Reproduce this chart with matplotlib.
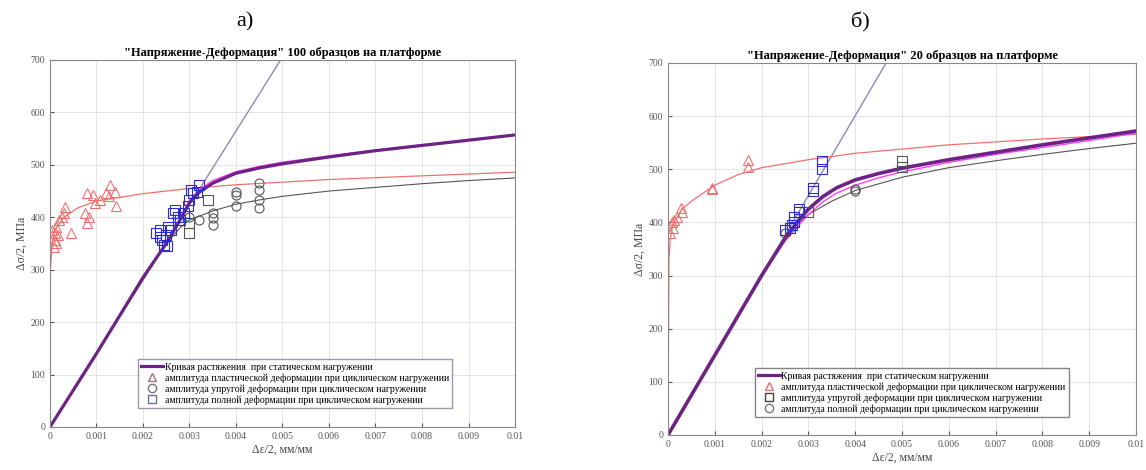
import matplotlib.pyplot as plt
from matplotlib.lines import Line2D

plt.rcParams['font.family'] = ['Liberation Serif', 'DejaVu Serif']

# ---- panel a) 100 samples ----
a_static_x = [0, 0.001, 0.002, 0.0025, 0.0028, 0.003, 0.0032, 0.0035, 0.004, 0.0045, 0.005, 0.006, 0.007, 0.008, 0.009, 0.01]
a_static_y = [0, 140, 285, 350, 395, 428, 447, 465, 484, 494, 502, 515, 527, 537, 547, 557]
a_magenta_y = [0, 140, 285, 350, 398, 432, 452, 470, 487, 497, 505, 517, 528, 538, 548, 557]
a_plast_x = [0, 0.00001, 0.00005, 0.0001, 0.0003, 0.0006, 0.001, 0.002, 0.003, 0.004, 0.005, 0.006, 0.008, 0.01]
a_plast_y = [0, 300, 350, 375, 400, 418, 431, 445, 455, 462, 467, 472, 479, 486]
a_elast_x = [0, 0.0025, 0.0028, 0.003, 0.0035, 0.004, 0.0045, 0.005, 0.006, 0.007, 0.008, 0.009, 0.01]
a_elast_y = [0, 350, 380, 395, 412, 425, 433, 440, 450, 457, 464, 470, 475]
a_line_x = [0, 0.00496]
a_line_y = [0, 700]

a_tri_x = [0.0001, 0.0001, 0.00005, 0.00013, 0.00017, 0.0002, 0.0003, 0.00033, 0.00045, 0.00076, 0.0008, 0.0008,
           0.00092, 0.00097, 0.00107, 0.0013, 0.00139, 0.00143, 0.00127, 0.0012, 0.00084, 0.00025, 0.00013, 0.00008]
a_tri_y = [357, 370, 376, 382, 366, 395, 408, 420, 370, 408, 389, 446,
           443, 427, 433, 462, 449, 421, 440, 446, 401, 401, 350, 344]
a_circ_x = [0.0032, 0.0035, 0.0035, 0.0035, 0.004, 0.004, 0.004, 0.0045, 0.0045, 0.0045, 0.0045, 0.003]
a_circ_y = [395, 408, 398, 386, 449, 443, 421, 465, 452, 433, 417, 401]
a_gsq_x = [0.003, 0.003, 0.0034]
a_gsq_y = [370, 389, 433]
a_sq_x = [0.00229, 0.00237, 0.00241, 0.00245, 0.00249, 0.00253, 0.0026, 0.00265, 0.00268, 0.00276,
          0.0028, 0.00288, 0.00296, 0.003, 0.00304, 0.00308, 0.0032, 0.00316, 0.00237, 0.00252]
a_sq_y = [370, 376, 357, 348, 367, 382, 376, 408, 414, 401,
          395, 408, 421, 433, 452, 446, 462, 449, 363, 345]

# ---- panel б) 20 samples ----
b_static_x = [0, 0.001, 0.002, 0.0025, 0.0028, 0.003, 0.0033, 0.0036, 0.004, 0.0045, 0.005, 0.006, 0.007, 0.008, 0.009, 0.01]
b_static_y = [0, 150, 300, 370, 405, 425, 448, 465, 480, 492, 502, 518, 532, 546, 559, 572]
b_magenta_y = [0, 150, 300, 365, 395, 415, 438, 455, 470, 484, 495, 513, 528, 541, 554, 568]
b_plast_x = [0, 0.00002, 0.00005, 0.0001, 0.0003, 0.0005, 0.001, 0.0015, 0.002, 0.003, 0.004, 0.005, 0.006, 0.008, 0.01]
b_plast_y = [0, 330, 370, 395, 425, 440, 470, 490, 503, 518, 530, 538, 546, 557, 566]
b_elast_x = [0.0028, 0.003, 0.0035, 0.004, 0.005, 0.006, 0.007, 0.008, 0.009, 0.01]
b_elast_y = [400, 415, 440, 460, 485, 503, 516, 528, 539, 549]
b_line_x = [0, 0.00466]
b_line_y = [0, 700]

b_tri_x = [0.00005, 0.0001, 0.00008, 0.00012, 0.0002, 0.0003, 0.00028, 0.00095, 0.00093, 0.0017, 0.0017]
b_tri_y = [380, 390, 400, 405, 410, 420, 428, 462, 465, 505, 518]
b_sq_x = [0.003, 0.005, 0.005]
b_sq_y = [420, 505, 515]
b_circ_x = [0.004, 0.004, 0.0025]
b_circ_y = [460, 463, 380]
b_bsq_x = [0.0025, 0.0026, 0.0027, 0.0027, 0.0028, 0.0028, 0.0031, 0.0031, 0.0033, 0.0033, 0.00265]
b_bsq_y = [385, 390, 400, 410, 420, 425, 460, 465, 500, 515, 395]

lbl_static = "Кривая растяжения  при статическом нагружении"
lbl_plast = "амплитуда пластической деформации при циклическом нагружении"
lbl_elast = "амплитуда упругой деформации при циклическом нагружении"
lbl_total = "амплитуда полной деформации при циклическом нагружении"

purple = '#6c2383'
red = '#f07070'
gray = '#555555'
blue = '#2a2ad0'

fig = plt.figure(figsize=(11.46, 4.7), dpi=100)
ax1 = fig.add_axes([0.0436, 0.0915, 0.4058, 0.7809])
ax2 = fig.add_axes([0.5829, 0.0745, 0.4084, 0.7915])


def style(ax, title):
    ax.set_xlim(0, 0.01)
    ax.set_ylim(0, 700)
    ax.set_xticks([i * 0.001 for i in range(11)])
    ax.set_xticklabels(["0"] + ["%g" % (i * 0.001) for i in range(1, 11)])
    ax.set_yticks(range(0, 701, 100))
    ax.tick_params(direction='in', labelsize=7, colors='#555555', length=3)
    ax.grid(color='#e4e4e4', linewidth=0.7)
    ax.set_axisbelow(True)
    for s in ax.spines.values():
        s.set_color('#888888')
        s.set_linewidth(0.8)
    ax.set_title(title, fontsize=9, fontweight='bold', pad=3)
    ax.set_xlabel("Δε/2, мм/мм", fontsize=8.5, color='#444444', labelpad=2)
    ax.set_ylabel("Δσ/2, МПа", fontsize=8.5, color='#444444', labelpad=2)


# panel a
ax1.plot(a_line_x, a_line_y, color='#8c8cb8', lw=1.0)
ax1.plot(a_plast_x, a_plast_y, color=red, lw=0.9)
ax1.plot(a_elast_x, a_elast_y, color=gray, lw=0.8)
ax1.plot(a_static_x, a_magenta_y, color='#ff40ff', lw=1.0)
ax1.plot(a_static_x, a_static_y, color=purple, lw=2.3)
ax1.plot(a_tri_x, a_tri_y, '^', mfc='none', mec=red, ms=7, mew=0.8)
ax1.plot(a_circ_x, a_circ_y, 'o', mfc='none', mec=gray, ms=6.5, mew=0.8)
ax1.plot(a_gsq_x, a_gsq_y, 's', mfc='none', mec=gray, ms=6.5, mew=0.8)
ax1.plot(a_sq_x, a_sq_y, 's', mfc='none', mec=blue, ms=6.5, mew=0.8)
style(ax1, '"Напряжение-Деформация" 100 образцов на платформе')
h1 = [Line2D([], [], color=purple, lw=2.3),
      Line2D([], [], ls='none', marker='^', mfc='none', mec='#a07090', ms=6),
      Line2D([], [], ls='none', marker='o', mfc='none', mec='#777777', ms=6),
      Line2D([], [], ls='none', marker='s', mfc='none', mec='#7070a0', ms=6)]
ax1.legend(h1, [lbl_static, lbl_plast, lbl_elast, lbl_total], loc='lower right',
           bbox_to_anchor=(0.865, 0.052), fontsize=7, frameon=True, fancybox=False,
           edgecolor='#8a7a9a', borderpad=0.35, labelspacing=0.15, handlelength=2.2,
           handletextpad=0.2, borderaxespad=0)

# panel b
ax2.plot(b_line_x, b_line_y, color='#8c8cb8', lw=1.0)
ax2.plot(b_plast_x, b_plast_y, color=red, lw=0.9)
ax2.plot(b_elast_x, b_elast_y, color=gray, lw=0.8)
ax2.plot(b_static_x, b_magenta_y, color='#ff40ff', lw=1.0)
ax2.plot(b_static_x, b_static_y, color=purple, lw=2.6)
ax2.plot(b_tri_x, b_tri_y, '^', mfc='none', mec=red, ms=7, mew=0.8)
ax2.plot(b_sq_x, b_sq_y, 's', mfc='none', mec=gray, ms=6.5, mew=0.8)
ax2.plot(b_circ_x, b_circ_y, 'o', mfc='none', mec=gray, ms=6.5, mew=0.8)
ax2.plot(b_bsq_x, b_bsq_y, 's', mfc='none', mec=blue, ms=6.5, mew=0.8)
style(ax2, '"Напряжение-Деформация" 20 образцов на платформе')
h2 = [Line2D([], [], color=purple, lw=2.3),
      Line2D([], [], ls='none', marker='^', mfc='none', mec='#e07070', ms=6),
      Line2D([], [], ls='none', marker='s', mfc='none', mec='#444444', ms=6),
      Line2D([], [], ls='none', marker='o', mfc='none', mec='#777777', ms=6)]
ax2.legend(h2, [lbl_static, lbl_plast, lbl_elast, lbl_total], loc='lower right',
           bbox_to_anchor=(0.857, 0.048), fontsize=7, frameon=True, fancybox=False,
           edgecolor='#666666', borderpad=0.35, labelspacing=0.15, handlelength=2.2,
           handletextpad=0.2, borderaxespad=0)

fig.text(245 / 1146, 1 - 22 / 470, "а)", fontsize=16, ha='center', va='center')
fig.text(860 / 1146, 1 - 22 / 470, "б)", fontsize=16, ha='center', va='center')

fig.savefig('out.png', dpi=100)
